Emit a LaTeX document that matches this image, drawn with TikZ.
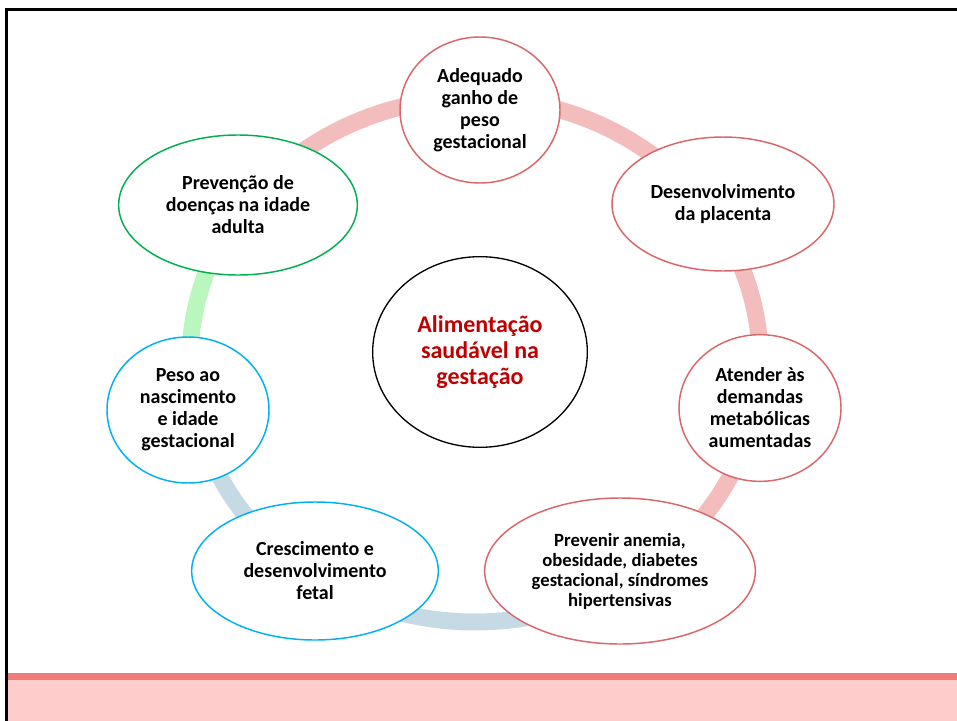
\documentclass[tikz,border=0pt]{standalone}
\usepackage{fontspec}
\setmainfont{Carlito}
\usetikzlibrary{shapes.geometric}
\definecolor{ringpink}{HTML}{F4BDBD}
\definecolor{ringgreen}{HTML}{B9F7BE}
\definecolor{ringblue}{HTML}{C6DAE6}
\definecolor{redline}{HTML}{D9676A}
\definecolor{greenline}{HTML}{00B050}
\definecolor{blueline}{HTML}{00B0F0}
\definecolor{banddark}{HTML}{F07C7C}
\definecolor{bandlight}{HTML}{FFCCCC}
\definecolor{titlered}{HTML}{C00000}
\begin{document}
\begin{tikzpicture}[x=0.75pt,y=-0.75pt,
  bub/.style={ellipse, draw, line width=1.1pt, fill=white, inner sep=0pt, align=center,
    font=\bfseries\fontsize{15}{16.5}\selectfont},
  bubred/.style={bub, draw=redline},
  bubgreen/.style={bub, draw=greenline},
  bubblue/.style={bub, draw=blueline},
  ringseg/.style={line width=12.75pt, line cap=butt}]
\useasboundingbox (0,0) rectangle (957,721);
% background band
\fill[bandlight] (8,680) rectangle (957,721);
\fill[banddark] (8,673) rectangle (957,680);
% frame
\draw[line width=2.25pt, line join=miter] (6.5,721) -- (6.5,9.5) -- (957,9.5);
% ring
\coordinate (ringc) at (475,360);
\draw[ringseg, ringpink] plot[domain=300:508, samples=150, smooth] ({475+285*cos(\x)}, {360-262*sin(\x)});
\draw[ringseg, ringgreen] plot[domain=146:190, samples=40, smooth] ({475+285*cos(\x)}, {360-262*sin(\x)});
\draw[ringseg, ringblue] plot[domain=190:302, samples=90, smooth] ({475+285*cos(\x)}, {360-262*sin(\x)});
% bubbles
\node[bubred, minimum width=120pt, minimum height=109.5pt] (adeq) at (480,110) {Adequado\\ganho de\\peso\\gestacional};
\node[bubred, minimum width=166.5pt, minimum height=100.5pt] (desenv) at (723,204) {Desenvolvimento\\da placenta};
\node[bubred, minimum width=121.5pt, minimum height=110pt] (atender) at (760,408) {Atender às\\demandas\\metabólicas\\aumentadas};
\node[bubred, minimum width=203pt, minimum height=109.5pt, font=\bfseries\fontsize{14}{15}\selectfont] (prevenir) at (620,571) {Prevenir anemia,\\obesidade, diabetes\\gestacional, síndromes\\hipertensivas};
\node[bubblue, minimum width=185pt, minimum height=103.5pt] (cresc) at (315,571) {Crescimento e\\desenvolvimento\\fetal};
\node[bubblue, minimum width=121.5pt, minimum height=109.5pt] (peso) at (188,410) {Peso ao\\nascimento\\e idade\\gestacional};
\node[bubgreen, minimum width=179pt, minimum height=105pt] (prevencao) at (238,205) {Prevenção de\\doenças na idade\\adulta};
\node[ellipse, draw=black, line width=1pt, fill=white, inner sep=0pt, align=center,
  minimum width=161pt, minimum height=143pt, text=titlered,
  font=\bfseries\fontsize{18}{19.5}\selectfont] (center) at (480,352) {Alimentação\\saudável na\\gestação};
\end{tikzpicture}
\end{document}
